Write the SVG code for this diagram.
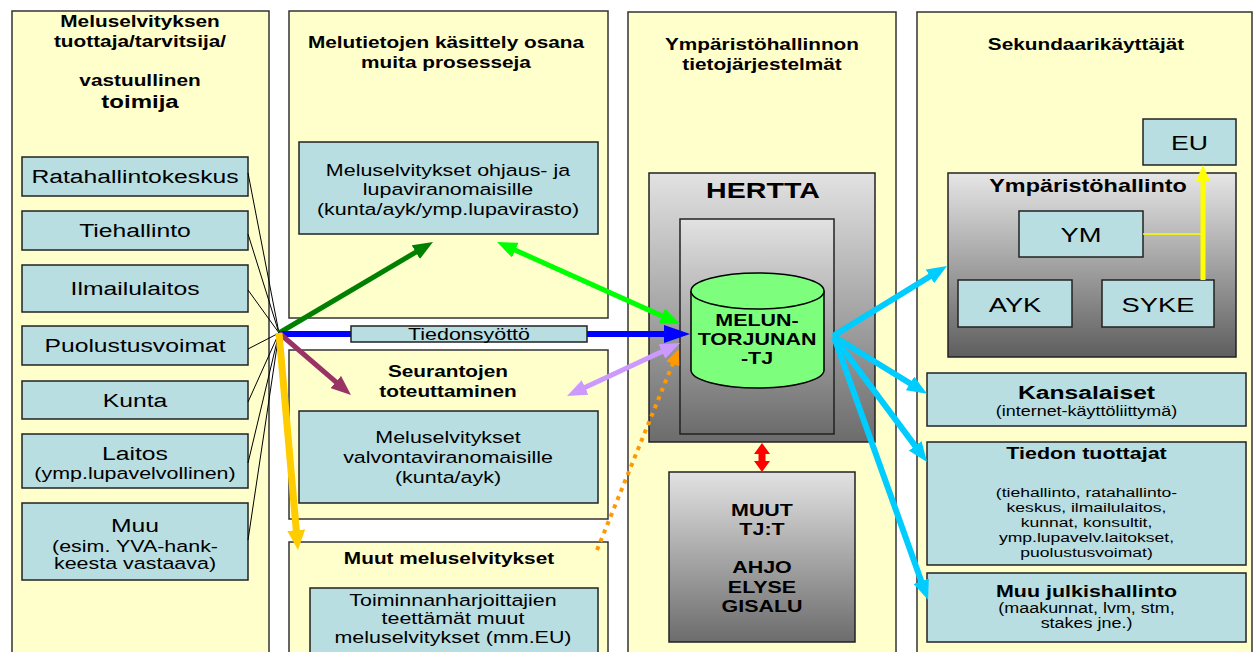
<svg xmlns="http://www.w3.org/2000/svg" width="1255" height="652" viewBox="0 0 1255 652">
<style>
.panel{fill:#ffffcc;stroke:#333;stroke-width:1.5}
.box{fill:#b8dee2;stroke:#222;stroke-width:1.5}
.grey{stroke:#222;stroke-width:1.5}
text{font-family:"Liberation Sans",Arial,sans-serif;text-anchor:middle;fill:#000}
.h{font-weight:bold;font-size:16px}
.lb{font-size:19px}
.t{font-size:16.5px}
.s{font-size:13.8px}
.fan{stroke:#000;stroke-width:1;fill:none}
.arr{fill:none;stroke-linecap:butt}
</style>
<defs>
<linearGradient id="gGrey" x1="0" y1="0" x2="0" y2="1">
<stop offset="0" stop-color="#e2e2e2"/><stop offset="1" stop-color="#6c6c6c"/>
</linearGradient>
<linearGradient id="gGrey2" x1="0" y1="0" x2="0" y2="1">
<stop offset="0" stop-color="#e6e6e6"/><stop offset="1" stop-color="#5e5e5e"/>
</linearGradient>
<marker id="mDG" markerUnits="userSpaceOnUse" markerWidth="20" markerHeight="16" refX="5" refY="8" orient="auto"><path d="M0,0 L20,8 L0,16 z" fill="#008000"/></marker>
<marker id="mLG" markerUnits="userSpaceOnUse" markerWidth="20" markerHeight="16" refX="5" refY="8" orient="auto-start-reverse"><path d="M0,0 L20,8 L0,16 z" fill="#00ff00"/></marker>
<marker id="mB" markerUnits="userSpaceOnUse" markerWidth="26" markerHeight="18" refX="11" refY="9" orient="auto"><path d="M0,0 L26,9 L0,18 z" fill="#0000ff"/></marker>
<marker id="mP" markerUnits="userSpaceOnUse" markerWidth="20" markerHeight="16" refX="5" refY="8" orient="auto"><path d="M0,0 L20,8 L0,16 z" fill="#993366"/></marker>
<marker id="mLP" markerUnits="userSpaceOnUse" markerWidth="20" markerHeight="16" refX="5" refY="8" orient="auto-start-reverse"><path d="M0,0 L20,8 L0,16 z" fill="#cc99ff"/></marker>
<marker id="mO" markerUnits="userSpaceOnUse" markerWidth="16" markerHeight="14" refX="2" refY="7" orient="auto"><path d="M0,0 L16,7 L0,14 z" fill="#ff9900"/></marker>
<marker id="mGo" markerUnits="userSpaceOnUse" markerWidth="20" markerHeight="18" refX="5" refY="9" orient="auto"><path d="M0,0 L20,9 L0,18 z" fill="#ffcc00"/></marker>
<marker id="mC" markerUnits="userSpaceOnUse" markerWidth="20" markerHeight="16" refX="5" refY="8" orient="auto"><path d="M0,0 L20,8 L0,16 z" fill="#00ccff"/></marker>
<marker id="mY" markerUnits="userSpaceOnUse" markerWidth="16" markerHeight="14" refX="4" refY="7" orient="auto"><path d="M0,0 L16,7 L0,14 z" fill="#ffff00"/></marker>
</defs>
<rect width="1255" height="652" fill="#fff"/>

<!-- Column 1 -->
<g id="col1">
<rect class="panel" x="12" y="11" width="257" height="660"/>
<text class="h" transform="translate(140 0) scale(1.3 1)"><tspan x="0" y="27">Meluselvityksen</tspan><tspan x="0" y="47">tuottaja/tarvitsija/</tspan><tspan x="0" y="86">vastuullinen</tspan></text>
<text class="h" style="font-size:18.5px" transform="translate(140 0) scale(1.3 1)"><tspan x="0" y="108">toimija</tspan></text>
</g>
<g id="n-ratahallintokeskus"><rect class="box" x="22" y="157" width="226" height="39"/><text class="lb" transform="translate(135 0) scale(1.3 1)"><tspan x="0" y="183">Ratahallintokeskus</tspan></text></g>
<g id="n-tiehallinto"><rect class="box" x="22" y="211" width="226" height="39"/><text class="lb" transform="translate(135 0) scale(1.3 1)"><tspan x="0" y="237">Tiehallinto</tspan></text></g>
<g id="n-ilmailulaitos"><rect class="box" x="22" y="265" width="226" height="47"/><text class="lb" transform="translate(135 0) scale(1.3 1)"><tspan x="0" y="295">Ilmailulaitos</tspan></text></g>
<g id="n-puolustusvoimat"><rect class="box" x="22" y="326" width="226" height="39"/><text class="lb" transform="translate(135 0) scale(1.3 1)"><tspan x="0" y="352">Puolustusvoimat</tspan></text></g>
<g id="n-kunta"><rect class="box" x="22" y="381" width="226" height="38"/><text class="lb" transform="translate(135 0) scale(1.3 1)"><tspan x="0" y="407">Kunta</tspan></text></g>
<g id="n-laitos"><rect class="box" x="22" y="434" width="226" height="54"/><text class="lb" transform="translate(135 0) scale(1.3 1)"><tspan x="0" y="460">Laitos</tspan></text><text class="t" transform="translate(135 0) scale(1.3 1)"><tspan x="0" y="479">(ymp.lupavelvollinen)</tspan></text></g>
<g id="n-muu"><rect class="box" x="22" y="503" width="226" height="77"/><text class="lb" transform="translate(135 0) scale(1.3 1)"><tspan x="0" y="532">Muu</tspan></text><text class="t" transform="translate(135 0) scale(1.3 1)"><tspan x="0" y="552">(esim. YVA-hank-</tspan><tspan x="0" y="569">keesta vastaava)</tspan></text></g>

<!-- Column 2 -->
<g id="col2-prosessit">
<rect class="panel" x="289" y="11" width="319" height="307"/>
<text class="h" transform="translate(446 0) scale(1.3 1)"><tspan x="0" y="48">Melutietojen käsittely osana</tspan><tspan x="0" y="68">muita prosesseja</tspan></text>
</g>
<g id="n-ohjaus"><rect class="box" x="299" y="142" width="299" height="92"/><text class="t" transform="translate(448 0) scale(1.3 1)"><tspan x="0" y="176">Meluselvitykset ohjaus- ja</tspan><tspan x="0" y="195.5">lupaviranomaisille</tspan><tspan x="0" y="215">(kunta/ayk/ymp.lupavirasto)</tspan></text></g>
<g id="col2-seuranta">
<rect class="panel" x="289" y="350" width="319" height="169"/>
<text class="h" transform="translate(448 0) scale(1.3 1)"><tspan x="0" y="377">Seurantojen</tspan><tspan x="0" y="397">toteuttaminen</tspan></text>
</g>
<g id="n-valvonta"><rect class="box" x="299" y="411" width="299" height="92"/><text class="t" transform="translate(448 0) scale(1.3 1)"><tspan x="0" y="443">Meluselvitykset</tspan><tspan x="0" y="463">valvontaviranomaisille</tspan><tspan x="0" y="483">(kunta/ayk)</tspan></text></g>
<g id="col2-muut">
<rect class="panel" x="289" y="542" width="319" height="130"/>
<text class="h" transform="translate(449 0) scale(1.3 1)"><tspan x="0" y="564">Muut meluselvitykset</tspan></text>
</g>
<g id="n-toiminnanharjoittajat"><rect class="box" x="310" y="588" width="288" height="80"/><text class="t" transform="translate(453 0) scale(1.3 1)"><tspan x="0" y="606">Toiminnanharjoittajien</tspan><tspan x="0" y="624.5">teettämät muut</tspan><tspan x="0" y="643">meluselvitykset (mm.EU)</tspan></text></g>

<!-- Column 3 -->
<g id="col3">
<rect class="panel" x="628" y="12" width="268" height="660"/>
<text class="h" transform="translate(762 0) scale(1.3 1)"><tspan x="0" y="50">Ympäristöhallinnon</tspan><tspan x="0" y="70">tietojärjestelmät</tspan></text>
</g>
<g id="n-hertta">
<rect class="grey" x="649" y="173" width="226" height="269" fill="url(#gGrey)"/>
<text class="h" style="font-size:22px" transform="translate(763 0) scale(1.3 1)"><tspan x="0" y="198">HERTTA</tspan></text>
<rect class="grey" x="680" y="219" width="154" height="215" fill="url(#gGrey)"/>
</g>
<g id="n-meluntorjunan-tj">
<path d="M691,291 L691,370 A66.5,18 0 0 0 824,370 L824,291" fill="#7dff7d" stroke="#000" stroke-width="1.5"/>
<ellipse cx="757.5" cy="291" rx="66.5" ry="18" fill="#7dff7d" stroke="#000" stroke-width="1.5"/>
<text class="h" style="font-size:16.5px" transform="translate(757 0) scale(1.3 1)"><tspan x="0" y="326">MELUN-</tspan><tspan x="0" y="345">TORJUNAN</tspan><tspan x="0" y="364">-TJ</tspan></text>
</g>
<g id="n-muut-tjt">
<rect class="grey" x="669" y="472" width="186" height="170" fill="url(#gGrey)"/>
<text class="h" style="font-size:16.5px" transform="translate(762 0) scale(1.3 1)"><tspan x="0" y="516">MUUT</tspan><tspan x="0" y="535">TJ:T</tspan><tspan x="0" y="573">AHJO</tspan><tspan x="0" y="593">ELYSE</tspan><tspan x="0" y="612">GISALU</tspan></text>
</g>

<!-- Column 4 -->
<g id="col4">
<rect class="panel" x="917" y="12" width="335" height="660"/>
<text class="h" transform="translate(1086 0) scale(1.3 1)"><tspan x="0" y="50">Sekundaarikäyttäjät</tspan></text>
</g>
<g id="n-eu"><rect class="box" x="1143" y="119" width="93" height="46"/><text class="lb" style="font-size:20.5px" transform="translate(1189.5 0) scale(1.3 1)"><tspan x="0" y="150">EU</tspan></text></g>
<g id="n-ymparistohallinto">
<rect class="grey" x="948" y="173" width="288" height="184" fill="url(#gGrey2)"/>
<text class="h" style="font-size:18px" transform="translate(1088 0) scale(1.3 1)"><tspan x="0" y="192">Ympäristöhallinto</tspan></text>
</g>
<g id="n-ym"><rect class="box" x="1019" y="211" width="124" height="46"/><text class="lb" style="font-size:21px" transform="translate(1081 0) scale(1.3 1)"><tspan x="0" y="242">YM</tspan></text></g>
<g id="n-ayk"><rect class="box" x="958" y="280" width="114" height="47"/><text class="lb" style="font-size:21px" transform="translate(1015 0) scale(1.3 1)"><tspan x="0" y="312">AYK</tspan></text></g>
<g id="n-syke"><rect class="box" x="1102" y="280" width="112" height="47"/><text class="lb" style="font-size:21px" transform="translate(1158 0) scale(1.3 1)"><tspan x="0" y="312">SYKE</tspan></text></g>
<g id="n-kansalaiset"><rect class="box" x="927" y="373" width="319" height="53"/><text class="h" style="font-size:19px" transform="translate(1086.5 0) scale(1.3 1)"><tspan x="0" y="399">Kansalaiset</tspan></text><text class="s" transform="translate(1086.5 0) scale(1.3 1)"><tspan x="0" y="416">(internet-käyttöliittymä)</tspan></text></g>
<g id="n-tiedon-tuottajat"><rect class="box" x="927" y="442" width="319" height="123"/><text class="h" style="font-size:16.5px" transform="translate(1086.5 0) scale(1.3 1)"><tspan x="0" y="459">Tiedon tuottajat</tspan></text><text class="s" style="font-size:13.5px" transform="translate(1086.5 0) scale(1.3 1)"><tspan x="0" y="497">(tiehallinto, ratahallinto-</tspan><tspan x="0" y="512">keskus, ilmailulaitos,</tspan><tspan x="0" y="527">kunnat, konsultit,</tspan><tspan x="0" y="542">ymp.lupavelv.laitokset,</tspan><tspan x="0" y="557">puolustusvoimat)</tspan></text></g>
<g id="n-muu-julkishallinto"><rect class="box" x="927" y="573" width="319" height="69"/><text class="h" style="font-size:16.5px" transform="translate(1086.5 0) scale(1.3 1)"><tspan x="0" y="597">Muu julkishallinto</tspan></text><text class="s" transform="translate(1086.5 0) scale(1.3 1)"><tspan x="0" y="613">(maakunnat, lvm, stm,</tspan><tspan x="0" y="628">stakes jne.)</tspan></text></g>

<!-- Connectors -->
<g id="connectors">
<path class="fan" d="M248,173 L279,333 M248,234 L279,333 M248,290 L279,333 M248,349 L279,333 M248,402 L279,333 M248,463 L279,333 M248,540 L279,333"/>
<line class="arr" x1="279" y1="333" x2="420.1" y2="249.6" stroke="#008000" stroke-width="5" marker-end="url(#mDG)"/>
<line class="arr" x1="510.7" y1="248.1" x2="666.3" y2="317.9" stroke="#00ff00" stroke-width="5" marker-start="url(#mLG)" marker-end="url(#mLG)"/>
<line class="arr" x1="279" y1="334" x2="675" y2="334" stroke="#0000ff" stroke-width="6" marker-end="url(#mB)"/>
<line class="arr" x1="279" y1="333" x2="339.6" y2="385.2" stroke="#993366" stroke-width="5" marker-end="url(#mP)"/>
<line class="arr" x1="580.6" y1="389.6" x2="666.4" y2="349.4" stroke="#cc99ff" stroke-width="5" marker-start="url(#mLP)" marker-end="url(#mLP)"/>
<line class="arr" x1="597" y1="550" x2="673.5" y2="362" stroke="#ff9900" stroke-width="4" stroke-dasharray="4 5" marker-end="url(#mO)"/>
<line class="arr" x1="279" y1="333" x2="296.7" y2="535.1" stroke="#ffcc00" stroke-width="7" marker-end="url(#mGo)"/>
<line class="arr" x1="833" y1="336" x2="934.2" y2="273.8" stroke="#00ccff" stroke-width="6" marker-end="url(#mC)"/>
<line class="arr" x1="833" y1="336" x2="914.3" y2="386" stroke="#00ccff" stroke-width="6" marker-end="url(#mC)"/>
<line class="arr" x1="834" y1="337" x2="918.1" y2="449.9" stroke="#00ccff" stroke-width="6" marker-end="url(#mC)"/>
<line class="arr" x1="834" y1="337" x2="923" y2="585.9" stroke="#00ccff" stroke-width="6" marker-end="url(#mC)"/>
<polygon points="762,443 770,454 765.5,454 765.5,461 770,461 762,472 754,461 758.5,461 758.5,454 754,454" fill="#ff0000"/>
<line x1="1143" y1="234" x2="1203" y2="234" stroke="#ffff00" stroke-width="1.5"/>
<line class="arr" x1="1203" y1="280" x2="1203" y2="177" stroke="#ffff00" stroke-width="5" marker-end="url(#mY)"/>
</g>

<g id="n-tiedonsyotto"><rect class="box" x="351" y="326" width="236" height="16"/><text class="t" transform="translate(469 0) scale(1.3 1)"><tspan x="0" y="340">Tiedonsyöttö</tspan></text></g>
</svg>
